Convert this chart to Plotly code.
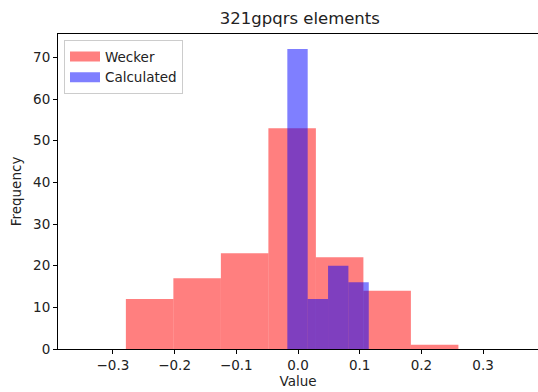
import plotly.graph_objects as go

# Histogram data (bin edges and counts)
wecker_edges = [-0.279, -0.202, -0.125, -0.048, 0.029, 0.106, 0.183, 0.260]
wecker_counts = [12, 17, 23, 53, 22, 14, 1]

calc_edges = [-0.0173, 0.0157, 0.0487, 0.0817, 0.1147]
calc_counts = [72, 12, 20, 16]

x_tick_vals = [-0.3, -0.2, -0.1, 0.0, 0.1, 0.2, 0.3]
x_tick_text = ["\u22120.3", "\u22120.2", "\u22120.1", "0.0", "0.1", "0.2", "0.3"]
y_tick_vals = [0, 10, 20, 30, 40, 50, 60, 70]

RED = "rgba(255,0,0,0.5)"
BLUE = "rgba(0,0,255,0.5)"


def centers_widths(edges):
    c = [(edges[i] + edges[i + 1]) / 2 for i in range(len(edges) - 1)]
    w = [edges[i + 1] - edges[i] for i in range(len(edges) - 1)]
    return c, w


wc, ww = centers_widths(wecker_edges)
cc, cw = centers_widths(calc_edges)

fig = go.Figure()
fig.add_trace(go.Bar(x=wc, y=wecker_counts, width=ww, name="Wecker",
                     marker=dict(color=RED, line=dict(width=0)), showlegend=False))
fig.add_trace(go.Bar(x=cc, y=calc_counts, width=cw, name="Calculated",
                     marker=dict(color=BLUE, line=dict(width=0)), showlegend=False))
# legend patches (wide rectangles like matplotlib)
fig.add_trace(go.Scatter(x=[None], y=[None], mode="lines", name="Wecker",
                         line=dict(color=RED, width=10)))
fig.add_trace(go.Scatter(x=[None], y=[None], mode="lines", name="Calculated",
                         line=dict(color=BLUE, width=10)))

font = "DejaVu Sans, sans-serif"
fs = 13.5
fig.update_layout(
    width=538, height=392,
    margin=dict(l=58, r=0, t=34, b=43),
    barmode="overlay",
    plot_bgcolor="white", paper_bgcolor="white",
    font=dict(family=font, size=fs, color="#222"),
    title=dict(text="321gpqrs elements", x=0.5573, xanchor="center",
               y=1 - 18 / 392, yanchor="middle",
               font=dict(size=16.5, family=font, color="#222")),
    legend=dict(x=0.0125, y=0.98, xanchor="left", yanchor="top",
                bgcolor="rgba(255,255,255,0.8)", bordercolor="#cccccc",
                borderwidth=1, font=dict(size=fs, family=font, color="#222")),
    xaxis=dict(range=[-0.389, 0.389], tickvals=x_tick_vals, ticktext=x_tick_text,
               showgrid=False, zeroline=False, showline=True, linecolor="black",
               linewidth=1, mirror=True, ticks="outside", ticklen=4,
               tickcolor="black",
               title=dict(text="Value", font=dict(size=fs, family=font), standoff=3)),
    yaxis=dict(range=[0, 75.6], tickvals=y_tick_vals,
               showgrid=False, zeroline=False, showline=True, linecolor="black",
               linewidth=1, ticks="outside", ticklen=4, tickcolor="black",
               title=dict(text="Frequency", font=dict(size=fs, family=font), standoff=8)),
)

fig.write_html("out.html")
